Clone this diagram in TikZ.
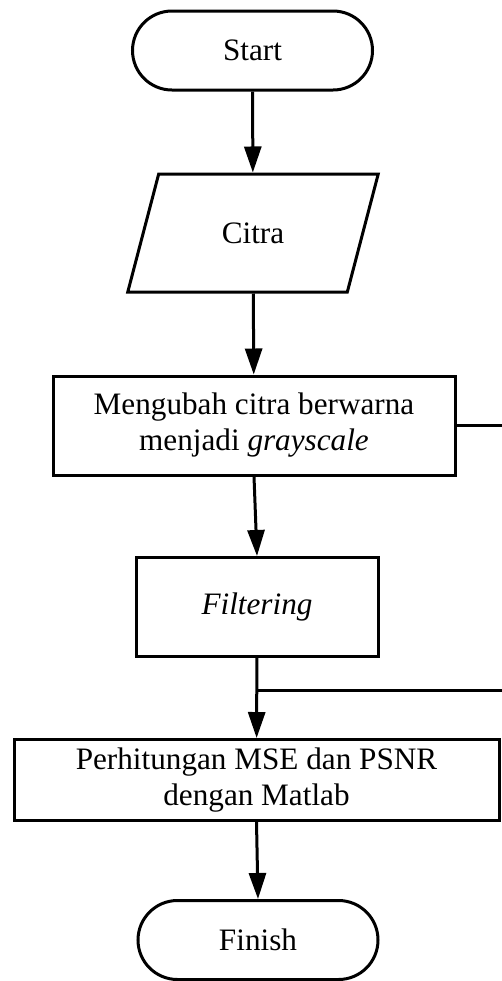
\documentclass[tikz,border=0pt]{standalone}
\usepackage{fontspec}
\setmainfont{Liberation Serif}
\usetikzlibrary{shapes.misc,shapes.geometric,arrows.meta}

\begin{document}
\begin{tikzpicture}[x=0.5pt, y=-0.5pt, line width=1.5pt,
  every node/.style={draw, align=center, inner sep=0pt, font=\fontsize{15.6}{18}\selectfont},
  terminal/.style={rounded rectangle, minimum width=120pt, minimum height=39.5pt},
  inout/.style={trapezium, trapezium left angle=64, trapezium right angle=116, trapezium stretches=true, minimum width=125.5pt, minimum height=59pt},
  process/.style={rectangle, minimum height=49.5pt},
  flow/.style={-{Triangle[length=13pt,width=8.5pt]}}]
\useasboundingbox (0,0) rectangle (502,981);
\node[terminal] (start) at (252.5,50.5) {Start};
\node[inout] (citra) at (253,233) {Citra};
\node[process, minimum width=201pt] (gray) at (254,425.5) {Mengubah citra berwarna\\menjadi \textit{grayscale}};
\node[process, minimum width=121pt] (filter) at (257,607) {\textit{Filtering}};
\node[process, minimum width=242.5pt, minimum height=40.5pt] (mse) at (256.5,780) {Perhitungan MSE dan PSNR\\dengan Matlab};
\node[terminal] (finish) at (258,940) {Finish};
\coordinate (grayR) at (502,425.5);
\coordinate (join) at (257,690);
\coordinate (joinR) at (502,690);
\draw[flow] (start) -- (citra);
\draw[flow] (citra) -- (gray);
\draw[flow] (gray.south) -- (filter.north);
\draw[flow] (filter) -- (mse);
\draw[flow] (mse.south) -- (finish.north);
\draw (gray) -- (grayR);
\draw (join) -- (joinR);
\end{tikzpicture}
\end{document}
